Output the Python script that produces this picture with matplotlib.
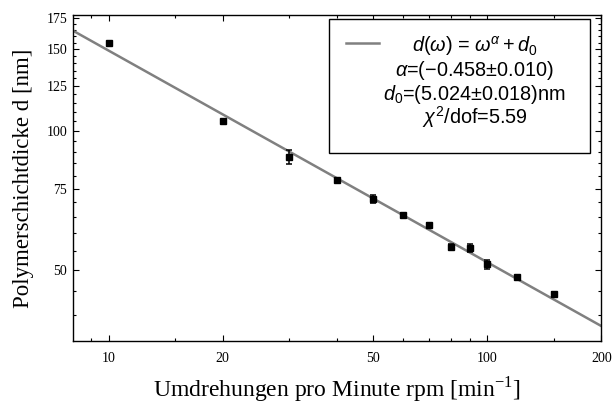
import numpy as np
import matplotlib
matplotlib.use('Agg')
import matplotlib.pyplot as plt
from matplotlib.patches import Rectangle
from matplotlib.lines import Line2D
from matplotlib.ticker import FixedLocator, NullFormatter, FixedFormatter

plt.rcParams['font.family'] = ['Liberation Serif', 'DejaVu Serif']
plt.rcParams['mathtext.fontset'] = 'custom'
plt.rcParams['mathtext.rm'] = 'Liberation Sans'
plt.rcParams['mathtext.it'] = 'Liberation Sans:italic'
plt.rcParams['mathtext.sf'] = 'Liberation Sans'

# measured thickness vs spin speed
rpm = [10, 20, 30, 40, 50, 60, 70, 80, 90, 100, 120, 150]
thickness = [154.6, 105.0, 87.8, 78.2, 71.2, 65.9, 62.7, 56.1, 55.8, 51.4, 48.2, 44.3]
thickness_err = [0.8, 0.7, 3.0, 0.6, 1.3, 0.5, 0.5, 0.7, 1.1, 1.1, 0.4, 0.4]

# fit d = A * rpm^alpha
alpha = -0.458
amp = 428.0

xticks_major = [10, 20, 50, 100, 200]
xticks_minor = [9, 15, 30, 40, 60, 70, 80, 90, 150]
yticks_major = [50, 75, 100, 125, 150, 175]
yticks_minor = [v for v in range(35, 180, 5) if v not in yticks_major]

legend_lines = [r'$d(\omega)$ = $\omega^{\alpha}+d_0$',
                r'$\alpha$=(−0.458±0.010)',
                r'$d_0$=(5.024±0.018)nm',
                r'$\chi^2$/dof=5.59']

fig = plt.figure(figsize=(6.13, 4.03), dpi=100)
ax = fig.add_axes([0.1186, 0.1538, 0.8625, 0.809])

xs = np.logspace(np.log10(8), np.log10(200), 200)
ax.plot(xs, amp * xs**alpha, color='#808080', lw=1.8, zorder=2)
ax.errorbar(rpm, thickness, yerr=thickness_err, fmt='s', color='black', ms=4,
            elinewidth=1.1, capsize=2.3, capthick=1.1, zorder=3)

ax.set_xscale('log')
ax.set_yscale('log')
ax.set_xlim(8.04, 200)
ax.set_ylim(35.1, 178)

ax.xaxis.set_major_locator(FixedLocator(xticks_major))
ax.xaxis.set_major_formatter(FixedFormatter([str(v) for v in xticks_major]))
ax.xaxis.set_minor_locator(FixedLocator(xticks_minor))
ax.xaxis.set_minor_formatter(NullFormatter())
ax.yaxis.set_major_locator(FixedLocator(yticks_major))
ax.yaxis.set_major_formatter(FixedFormatter([str(v) for v in yticks_major]))
ax.yaxis.set_minor_locator(FixedLocator(yticks_minor))
ax.yaxis.set_minor_formatter(NullFormatter())

ax.tick_params(which='both', direction='in', top=True, right=True, width=0.8)
ax.tick_params(which='major', length=4.2, labelsize=10)
ax.tick_params(which='minor', length=2.2)
ax.tick_params(axis='x', which='major', pad=8)
ax.tick_params(axis='y', which='major', pad=4)
for sp in ax.spines.values():
    sp.set_linewidth(1.0)

ax.set_xlabel(r'Umdrehungen pro Minute rpm [min$^{\mathdefault{-1}}$]', fontsize=17, labelpad=7)
ax.set_ylabel('Polymerschichtdicke d [nm]', fontsize=16.5, labelpad=9)

# legend box
ax.add_patch(Rectangle((0.485, 0.577), 0.494, 0.411, transform=ax.transAxes,
                       facecolor='white', edgecolor='black', lw=1.0, zorder=4))
ax.add_line(Line2D([0.517, 0.580], [0.914, 0.914], transform=ax.transAxes,
                   color='#808080', lw=1.8, zorder=5))
for i, s in enumerate(legend_lines):
    ax.text(0.760, 0.886 - i * 0.073, s, transform=ax.transAxes, ha='center',
            va='baseline', fontsize=14.3, family='Liberation Sans', zorder=5)

fig.savefig('out.png', dpi=100)
